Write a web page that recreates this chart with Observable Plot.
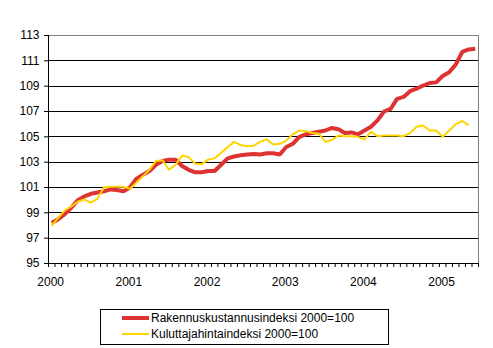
<!DOCTYPE html>
<html><head><meta charset="utf-8">
<script src="https://cdn.jsdelivr.net/npm/d3@7"></script>
<script src="https://cdn.jsdelivr.net/npm/@observablehq/plot@0.6"></script>
<style>
body{margin:0;background:#fff;font-family:"Liberation Sans",Arial,sans-serif;}
#wrap{position:relative;width:493px;height:348px;overflow:hidden;}
#legend{position:absolute;left:100px;top:309px;width:287px;height:34px;border:1px solid #000;box-sizing:content-box;}
.row{position:absolute;left:21px;height:16px;display:flex;align-items:center;font-size:12px;color:#000;white-space:nowrap;}
.swatch{width:27px;margin-right:2px;}
#chart svg line, #chart svg path[aria-label] {shape-rendering: crispEdges;}
#chart svg g[aria-label="line"] path {shape-rendering: auto;}
</style></head><body><div id="wrap"><div id="chart"></div><div id="legend"></div></div>
<script>
const yearLabels = ["2000", "2001", "2002", "2003", "2004", "2005"];
const yTicks = [95, 97, 99, 101, 103, 105, 107, 109, 111, 113];
const seriesNames = ["Rakennuskustannusindeksi 2000=100", "Kuluttajahintaindeksi 2000=100"];
const seriesColors = ["#dd3333", "#ffd400"];
// monthly values, Jan 2000 onwards
const rakennus = [
  98.2, 98.5, 98.9, 99.4, 100.0, 100.3, 100.5, 100.6, 100.7, 100.85, 100.8, 100.7,
  101.0, 101.7, 102.0, 102.3, 102.8, 103.1, 103.2, 103.2, 102.7, 102.4, 102.2, 102.2,
  102.3, 102.3, 102.8, 103.3, 103.45, 103.55, 103.6, 103.65, 103.6, 103.7, 103.7, 103.6,
  104.2, 104.45, 105.0, 105.2, 105.3, 105.4, 105.5, 105.7, 105.6, 105.3, 105.35, 105.2,
  105.5, 105.8, 106.3, 107.0, 107.2, 108.0, 108.15, 108.6, 108.8, 109.05, 109.25, 109.3,
  109.8, 110.1, 110.7, 111.7, 111.9, 111.95
];
const kuluttaja = [
  98.0, 98.6, 99.2, 99.5, 99.9, 100.05, 99.8, 100.1, 101.0, 101.05, 101.05, 101.05,
  100.9, 101.4, 101.9, 102.4, 103.1, 103.15, 102.4, 102.8, 103.5, 103.4, 102.9, 102.85,
  103.2, 103.3, 103.75, 104.2, 104.6, 104.35, 104.25, 104.3, 104.6, 104.8, 104.4, 104.45,
  104.7, 105.2, 105.5, 105.45, 105.3, 105.25, 104.6, 104.75, 105.1, 105.05, 105.05, 105.0,
  104.8, 105.4, 105.05, 105.1, 105.1, 105.1, 105.05, 105.3, 105.8, 105.9, 105.5, 105.5,
  105.0, 105.5, 106.0, 106.25, 105.9
];

const toRows = (arr) => arr.map((v, k) => ({m: k + 0.5, v}));
const nMonths = yearLabels.length * 12 - 6;

const chart = Plot.plot({
  width: 493, height: 300,
  marginLeft: 48, marginRight: 15, marginTop: 35, marginBottom: 37,
  style: {fontFamily: "'Liberation Sans', Arial, sans-serif", fontSize: "12px", color: "#000", background: "#fff"},
  x: {domain: [0, nMonths], axis: null, label: null},
  y: {domain: [yTicks[0], yTicks[yTicks.length - 1]], axis: null, label: null},
  marks: [
    Plot.ruleY(yTicks.slice(1, -1), {stroke: "#000", strokeOpacity: 1}),
    Plot.ruleY([yTicks[yTicks.length - 1]], {stroke: "#808080", strokeOpacity: 1}),
    Plot.ruleX([nMonths], {stroke: "#808080", strokeOpacity: 1}),
    Plot.ruleY([yTicks[0]], {stroke: "#000", strokeOpacity: 1}),
    Plot.ruleX([0], {stroke: "#000", strokeOpacity: 1}),
    Plot.axisY({ticks: yTicks, tickSize: 4, tickPadding: 5, tickFormat: d => String(d), stroke: "#000", label: null}),
    Plot.axisX({ticks: d3.range(0, nMonths + 1), tickSize: 4, tickFormat: () => "", stroke: "#000", label: null}),
    Plot.axisX({ticks: yearLabels.map((d, k) => 12 * k + 1 / 3), tickSize: 0, tickPadding: 14, label: null,
      tickFormat: (d) => yearLabels[Math.round((d - 1 / 3) / 12)]}),
    Plot.line(toRows(rakennus), {x: "m", y: "v", stroke: seriesColors[0], strokeWidth: 4, strokeLinejoin: "miter", strokeLinecap: "butt"}),
    Plot.line(toRows(kuluttaja), {x: "m", y: "v", stroke: seriesColors[1], strokeWidth: 2, strokeLinecap: "butt"})
  ]
});
document.getElementById("chart").appendChild(chart);

const legend = document.getElementById("legend");
seriesNames.forEach((name, k) => {
  const row = document.createElement("div");
  row.className = "row";
  row.style.top = (k === 0 ? 0 : 15.5) + "px";
  const sw = document.createElement("div");
  sw.className = "swatch";
  sw.style.height = (k === 0 ? 4 : 2) + "px";
  sw.style.background = seriesColors[k];
  const t = document.createElement("span");
  t.textContent = name;
  row.appendChild(sw);
  row.appendChild(t);
  legend.appendChild(row);
});
</script>
</body></html>
